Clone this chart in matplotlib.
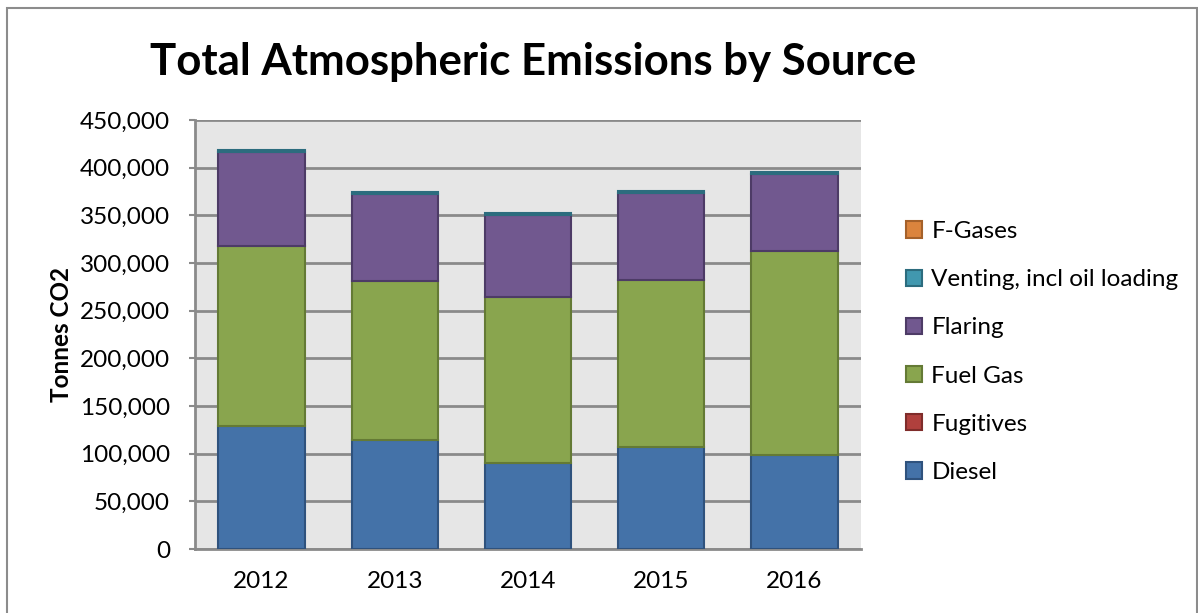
import matplotlib
matplotlib.use("Agg")
import matplotlib.pyplot as plt
from matplotlib.patches import Rectangle, Patch
from matplotlib.ticker import FuncFormatter

years = ["2012", "2013", "2014", "2015", "2016"]
diesel = [129000, 114000, 90000, 107000, 98500]
fugitives = [300, 300, 300, 300, 300]
fuel_gas = [189000, 167000, 174000, 174500, 213500]
flaring = [98500, 91500, 86500, 91500, 81000]
venting = [2000, 1800, 1800, 1800, 1800]
f_gases = [100, 100, 100, 100, 100]

series = [
    ("Diesel", diesel, "#4472a8", "#2f527d", 1.5),
    ("Fugitives", fugitives, "#b0403d", "#7f2c2a", 0),
    ("Fuel Gas", fuel_gas, "#89a54e", "#647a35", 1.5),
    ("Flaring", flaring, "#71588f", "#4d3b66", 1.5),
    ("Venting, incl oil loading", venting, "#4198af", "#2c6c7e", 1.5),
    ("F-Gases", f_gases, "#db843d", "#a5612a", 0),
]

plt.rcParams['font.family'] = ['Lato', 'DejaVu Sans']
fig = plt.figure(figsize=(11.98, 6.13), dpi=100)
fig.patches.append(Rectangle((0.006, -0.01), 0.993, 0.997, transform=fig.transFigure,
                             fill=False, edgecolor="#8c8c8c", linewidth=1.5))
ax = fig.add_axes([195/1198, 1-549/613, (861-195)/1198, (549-120)/613])
ax.set_facecolor("#e6e6e6")
x = list(range(len(years)))
bottom = [0]*len(years)
handles = []
for name, vals, col, ec, lw in series:
    ax.bar(x, vals, bottom=bottom, width=0.65, color=col, edgecolor=ec,
           linewidth=lw, zorder=3)
    handles.append(Patch(facecolor=col, edgecolor=ec, linewidth=1.5, label=name))
    bottom = [a+v for a, v in zip(bottom, vals)]

ax.set_ylim(0, 450000)
ax.set_xlim(-0.5, 4.5)
ax.set_yticks(range(0, 450001, 50000))
ax.yaxis.set_major_formatter(FuncFormatter(lambda v, p: f"{int(v):,}"))
ax.set_xticks(x)
ax.set_xticklabels(years)
ax.grid(axis='y', color="#8a8a8a", linewidth=2, zorder=0)
ax.tick_params(axis='y', labelsize=17.5, length=4, color="#8a8a8a", width=1.5, pad=14)
ax.tick_params(axis='x', labelsize=17.5, length=0, pad=16)
for s in ["top", "right"]:
    ax.spines[s].set_visible(False)
for s in ["left", "bottom"]:
    ax.spines[s].set_color("#8a8a8a")
    ax.spines[s].set_linewidth(2)
ax.set_ylabel("Tonnes CO2", fontsize=17.5, fontweight="bold", labelpad=5)

fig.text(533/1198, 1-62/613, "Total Atmospheric Emissions by Source", fontsize=31.5,
         fontweight="bold", ha="center", va="center")

leg = fig.legend(handles=handles[::-1], loc="center left", bbox_to_anchor=(884/1198, 1-352/613),
                 frameon=False, fontsize=17.5, handlelength=0.65, handleheight=0.65,
                 handletextpad=0.4, labelspacing=1.12)
fig.savefig("out.png", dpi=100)
